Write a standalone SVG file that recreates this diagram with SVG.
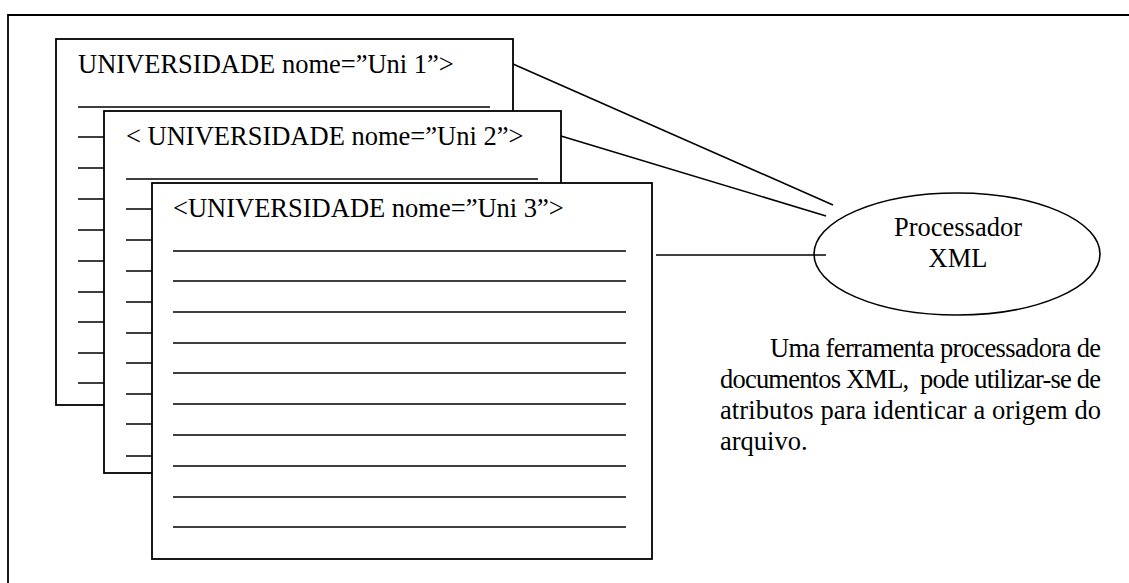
<svg xmlns="http://www.w3.org/2000/svg" width="1129" height="583" viewBox="0 0 1129 583">
<style>
.box{fill:#fff;stroke:#000;stroke-width:1.8}
.t{font-family:'Liberation Serif','Times New Roman',Times,serif;font-size:26.5px;fill:#000}
.ul{stroke:#000;stroke-width:1.5}
.c{stroke:#000;stroke-width:1.6;fill:none}
</style>
<rect width="1129" height="583" fill="#fff"/>
<g id="frame"><path d="M8,600 V15 H1140" fill="none" stroke="#000" stroke-width="1.8"/></g>
<g id="doc1">
<rect class="box" x="56" y="39" width="457" height="366"/>
<text class="t" font-family="Liberation Serif" x="78" y="73">UNIVERSIDADE nome=”Uni 1”&gt;</text>
<path class="ul" d="M78,107H490M78,137H490M78,168H490M78,199H490M78,230H490M78,261H490M78,292H490M78,322H490M78,353H490M78,383H490"/>
</g>
<g id="doc2">
<rect class="box" x="104" y="111" width="457" height="362"/>
<text class="t" font-family="Liberation Serif" x="126" y="145">&lt; UNIVERSIDADE nome=”Uni 2”&gt;</text>
<path class="ul" d="M126,179H538M126,209H538M126,240H538M126,271H538M126,302H538M126,333H538M126,363H538M126,394H538M126,424H538M126,456H538"/>
</g>
<g id="doc3">
<rect class="box" x="152" y="183" width="500" height="376"/>
<text class="t" font-family="Liberation Serif" x="173" y="217">&lt;UNIVERSIDADE nome=”Uni 3”&gt;</text>
<path class="ul" d="M173,251H626M173,281H626M173,312H626M173,343H626M173,373H626M173,404H626M173,435H626M173,466H626M173,497H626M173,527H626"/>
</g>
<g id="processador">
<ellipse cx="957" cy="254" rx="143" ry="61" fill="none" stroke="#000" stroke-width="1.6"/>
<text class="t" font-family="Liberation Serif" x="958" y="236" text-anchor="middle">Processador</text>
<text class="t" font-family="Liberation Serif" x="958" y="267" text-anchor="middle">XML</text>
</g>
<g id="connectors">
<line class="c" x1="513" y1="64" x2="833" y2="205"/>
<line class="c" x1="561" y1="136" x2="826" y2="216"/>
<line class="c" x1="656" y1="255" x2="826" y2="255"/>
</g>
<g id="note">
<text class="t" font-family="Liberation Serif" x="770" y="357" textLength="331" lengthAdjust="spacing">Uma ferramenta processadora de</text>
<text class="t" font-family="Liberation Serif" x="720" y="388" textLength="381" lengthAdjust="spacing" xml:space="preserve">documentos XML,  pode utilizar-se de</text>
<text class="t" font-family="Liberation Serif" x="720" y="419" textLength="381" lengthAdjust="spacing">atributos para identicar a origem do</text>
<text class="t" font-family="Liberation Serif" x="720" y="450">arquivo.</text>
</g>
</svg>
